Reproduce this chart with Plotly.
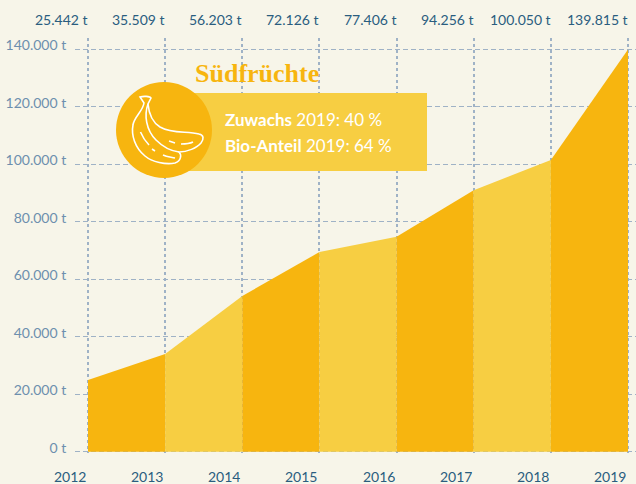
import plotly.graph_objects as go

years = [2012, 2013, 2014, 2015, 2016, 2017, 2018, 2019]
plotted = [25000, 34000, 54200, 69500, 74800, 91000, 101500, 140000]
top_labels = ["25.442 t", "35.509 t", "56.203 t", "72.126 t", "77.406 t", "94.256 t", "100.050 t", "139.815 t"]
y_vals = [0, 20000, 40000, 60000, 80000, 100000, 120000, 140000]
y_text = ["0 t", "20.000 t", "40.000 t", "60.000 t", "80.000 t", "100.000 t", "120.000 t", "140.000 t"]
title_text = "Südfrüchte"
info_lines = [("Zuwachs", "2019: 40 %"), ("Bio-Anteil", "2019: 64 %")]

W, H = 636, 484
BG = "#f7f5e9"
DARK = "#f7b50f"
LIGHT = "#f7ce42"
GRID = "#9fb2c6"
SANS = "Lato, 'Noto Sans', sans-serif"
SERIF = "'Liberation Serif', serif"

L, R, T, B = 75, 636, 38, 453
px_per_year = (628 - 88) / 7
k = 402.2 / 140000
x_range = [2012 - (88 - L) / px_per_year, 2019 + (R - 628) / px_per_year]
y_range = [-(B - 451.7) / k, (451.7 - T) / k]


def px(x):
    return (x - L) / (R - L)


def py(y):
    return (B - y) / (B - T)


fig = go.Figure()
for i in range(len(years) - 1):
    fig.add_trace(go.Scatter(
        x=years[i:i + 2], y=plotted[i:i + 2], mode="lines",
        line=dict(width=0), fill="tozeroy", hoverinfo="skip", showlegend=False,
        fillcolor=DARK if i % 2 == 0 else LIGHT,
    ))

anns = []
for yr, lab in zip(years, top_labels):
    anns.append(dict(x=yr, xref="x", y=py(20), yref="paper", text=lab, showarrow=False,
                     xanchor="right", yanchor="middle", xshift=2,
                     font=dict(family=SANS, size=14, color="#2a5d7f")))
    anns.append(dict(x=yr, xref="x", y=py(476), yref="paper", text=str(yr), showarrow=False,
                     xanchor="right", yanchor="middle", xshift=0, height=15,
                     font=dict(family=SANS, size=14, color="#2a5d7f")))
anns.append(dict(x=px(193), y=py(73), xref="paper", yref="paper", text=f"<b>{title_text}</b>", showarrow=False,
                 xanchor="left", yanchor="middle", font=dict(family=SERIF, size=26, color=DARK)))
for (a, b), yy in zip(info_lines, [119, 145]):
    anns.append(dict(x=px(223), y=py(yy), xref="paper", yref="paper", text=f"<b>{a}</b> {b}", showarrow=False,
                     xanchor="left", yanchor="middle", font=dict(family=SANS, size=17, color="white")))


def poly(*segs):
    out = []
    for seg in segs:
        cmd = seg[0]
        coords = seg[1:]
        conv = [f"{px(coords[i])},{py(coords[i + 1])}" for i in range(0, len(coords), 2)]
        out.append(cmd + " " + " ".join(conv))
    return " ".join(out)


banana_outer = poly(
    ("M", 140, 97), ("C", 143, 96, 150, 96, 151, 98), ("L", 148, 104),
    ("C", 149, 115, 152, 122, 160, 127), ("C", 172, 134, 187, 131, 199, 134),
    ("C", 204, 135, 204, 139, 201, 143), ("C", 197, 148, 187, 152, 179, 152),
    ("C", 182, 155, 181, 161, 175, 163), ("C", 166, 165, 152, 162, 145, 156),
    ("C", 135, 148, 131, 135, 133, 125), ("C", 134, 117, 143, 111, 144, 103), ("Z",),
)
inner1 = poly(("M", 148, 104), ("C", 144, 115, 146, 130, 156, 140), ("C", 163, 147, 171, 151, 179, 152))
inner2 = poly(("M", 140.5, 132), ("C", 143, 138, 146, 142, 149, 145))
inner3 = poly(("M", 152, 149), ("L", 155, 151))
inner4 = poly(("M", 163, 155), ("C", 167, 157, 171, 157, 175, 158))
inner5 = poly(("M", 169, 141), ("L", 175, 143))
inner6 = poly(("M", 181, 144), ("C", 185, 144, 189, 144, 193, 142))
ICON = dict(type="path", xref="paper", yref="paper", line=dict(color="white", width=1.6), layer="above")

shapes = [
    dict(type="rect", xref="paper", yref="paper", x0=px(164), x1=px(427), y0=py(93), y1=py(171),
         fillcolor=LIGHT, line=dict(width=0), layer="above"),
    dict(type="circle", xref="paper", yref="paper", x0=px(116), x1=px(212), y0=py(82), y1=py(178),
         fillcolor=DARK, line=dict(width=0), layer="above"),
    {**ICON, "path": banana_outer},
]
for p in [inner1, inner2, inner3, inner4, inner5, inner6]:
    shapes.append({**ICON, "path": p})

fig.update_layout(
    width=W, height=H, autosize=False,
    paper_bgcolor=BG, plot_bgcolor=BG,
    margin=dict(l=L, r=W - R, t=T, b=H - B, pad=0),
    showlegend=False, hovermode=False,
    xaxis=dict(range=x_range, tickvals=years, showticklabels=False, showgrid=True, gridcolor=GRID,
               griddash="3px,3px", gridwidth=1.5, zeroline=False, showline=False, ticks=""),
    yaxis=dict(range=y_range, tickvals=y_vals, ticktext=y_text, showgrid=True, gridcolor=GRID,
               griddash="5px,3px", gridwidth=1, zeroline=False, showline=False, ticks="outside",
               ticklen=5, tickcolor="rgba(0,0,0,0)", ticklabelshift=-4,
               tickfont=dict(family=SANS, size=14, color="#6d8fae")),
    annotations=anns, shapes=shapes,
)
fig.write_html("out.html", config={"displayModeBar": False},
               post_script="document.body.style.margin='0';document.body.style.overflow='hidden';document.body.style.background='#f7f5e9';")
